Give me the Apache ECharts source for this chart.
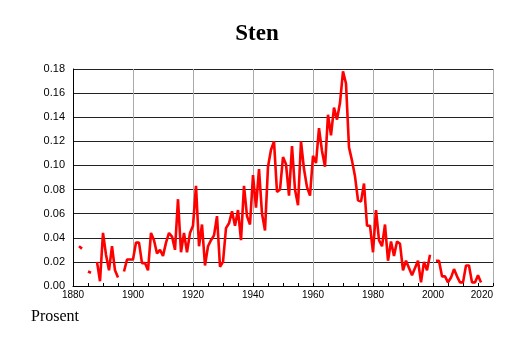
<!DOCTYPE html>
<html>
<head>
<meta charset="utf-8">
<style>
html,body{margin:0;padding:0;background:#fff;}
#chart{width:514px;height:343px;}
</style>
<script src="https://cdn.jsdelivr.net/npm/echarts@6/dist/echarts.min.js"></script>
</head>
<body>
<div id="chart"></div>
<script>
var titleText = "Sten";
var unitLabel = "Prosent";
var startYear = 1880;
var values = [
  null, null, 0.033, 0.031, null, 0.012, 0.011, null, 0.020, 0.004,   // 1880-1889
  0.044, 0.026, 0.013, 0.033, 0.013, 0.007, null, 0.012, 0.022, 0.022, // 1890-1899
  0.022, 0.036, 0.036, 0.019, 0.019, 0.013, 0.044, 0.038, 0.027, 0.030, // 1900-1909
  0.025, 0.036, 0.044, 0.041, 0.030, 0.072, 0.028, 0.044, 0.028, 0.044, // 1910-1919
  0.050, 0.083, 0.033, 0.051, 0.017, 0.033, 0.038, 0.042, 0.058, 0.016, // 1920-1929
  0.020, 0.048, 0.052, 0.062, 0.050, 0.063, 0.038, 0.083, 0.058, 0.051, // 1930-1939
  0.092, 0.065, 0.097, 0.060, 0.046, 0.099, 0.113, 0.120, 0.078, 0.080, // 1940-1949
  0.107, 0.101, 0.075, 0.116, 0.080, 0.067, 0.120, 0.097, 0.082, 0.075, // 1950-1959
  0.108, 0.102, 0.131, 0.112, 0.099, 0.142, 0.125, 0.148, 0.138, 0.152, // 1960-1969
  0.178, 0.168, 0.115, 0.104, 0.091, 0.071, 0.070, 0.085, 0.050, 0.050, // 1970-1979
  0.028, 0.063, 0.038, 0.033, 0.051, 0.021, 0.037, 0.025, 0.037, 0.035, // 1980-1989
  0.013, 0.021, 0.015, 0.009, 0.015, 0.021, 0.003, 0.020, 0.013, 0.026, // 1990-1999
  null, 0.021, 0.021, 0.008, 0.008, 0.003, 0.007, 0.014, 0.008, 0.003, // 2000-2009
  0.003, 0.017, 0.017, 0.003, 0.003, 0.009, 0.003, null, null, null,    // 2010-2019
  null                                                                  // 2020
];
var xTicks = [1880, 1900, 1920, 1940, 1960, 1980, 2000, 2020];
var yTicks = [0, 0.02, 0.04, 0.06, 0.08, 0.10, 0.12, 0.14, 0.16, 0.18];

var seriesData = values.map(function (v, i) {
  return [startYear + i, v === null ? '-' : v];
});

var chart = echarts.init(document.getElementById('chart'), null, {renderer: 'canvas'});
chart.setOption({
  animation: false,
  backgroundColor: '#ffffff',
  title: {
    text: titleText,
    left: 'center',
    top: 18,
    textStyle: {
      fontFamily: 'Liberation Serif',
      fontWeight: 'bold',
      fontSize: 23,
      color: '#000'
    }
  },
  graphic: [{
    type: 'text',
    left: 31,
    top: 309,
    style: {
      text: unitLabel,
      font: '16px "Liberation Serif"',
      fill: '#000'
    }
  }],
  grid: {left: 73, right: 21, top: 69, bottom: 57, containLabel: false},
  xAxis: {
    type: 'value',
    min: xTicks[0],
    max: xTicks[xTicks.length - 1],
    interval: 20,
    axisLine: {show: true, onZero: false, lineStyle: {color: '#000', width: 1}},
    axisTick: {show: true, inside: true, length: 3, lineStyle: {color: '#000'}},
    minorTick: {show: true, splitNumber: 4, length: 3, lineStyle: {color: '#000'}},
    splitLine: {show: true, lineStyle: {color: '#aaaaaa', width: 1}},
    axisLabel: {
      margin: 4,
      fontFamily: 'Liberation Sans',
      fontSize: 10,
      color: '#000',
      alignMaxLabel: 'right',
      formatter: function (v) { return String(v); }
    }
  },
  yAxis: {
    type: 'value',
    min: yTicks[0],
    max: yTicks[yTicks.length - 1],
    interval: 0.02,
    axisLine: {show: true, lineStyle: {color: '#000', width: 1}},
    axisTick: {show: false},
    splitLine: {show: true, lineStyle: {color: '#222', width: 1}},
    axisLabel: {
      margin: 8,
      fontFamily: 'Liberation Sans',
      fontSize: 11,
      color: '#000',
      formatter: function (v) { return v.toFixed(2); }
    }
  },
  series: [{
    type: 'line',
    data: seriesData,
    showSymbol: false,
    connectNulls: false,
    lineStyle: {color: '#ff0000', width: 2.6},
    itemStyle: {color: '#ff0000'},
    clip: false
  }]
});
</script>
</body>
</html>
